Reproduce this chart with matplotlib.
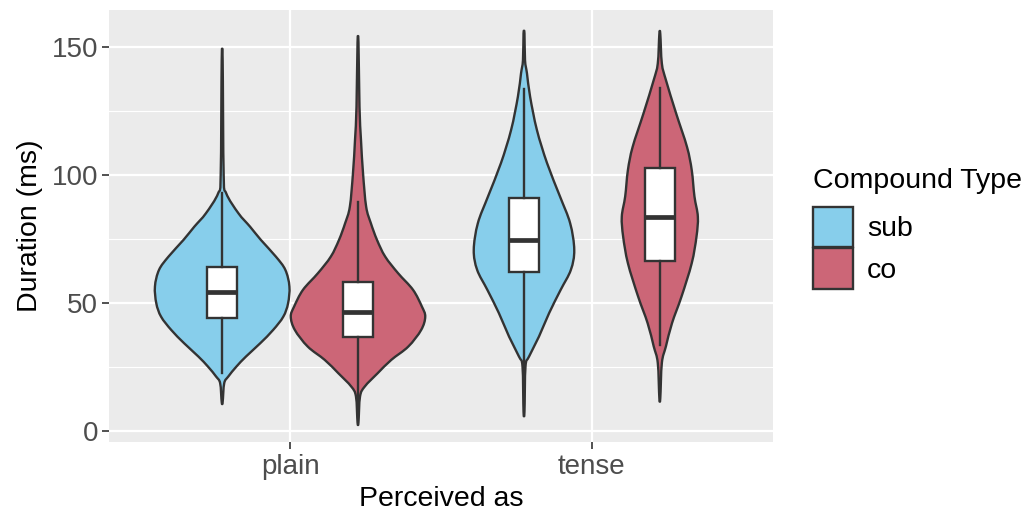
import numpy as np
import matplotlib
matplotlib.use("Agg")
import matplotlib.pyplot as plt
from matplotlib.patches import Patch, PathPatch
from matplotlib.path import Path

plt.rcParams['font.family'] = ['Liberation Sans', 'DejaVu Sans']

# ---- data ----
categories = ["plain", "tense"]
groups = ["sub", "co"]
colors = {"sub": "#87CEEB", "co": "#CC6677"}

# violin outlines: y value and relative half-width (0..1)
plain_sub_y = [144.7, 100.0, 92.8, 85.0, 79.8, 74.6, 68.1, 62.9, 56.4, 49.8, 44.6, 39.4, 34.2, 29.0, 25.1, 21.2, 18.6, 11.2]
plain_sub_w = [0.007, 0.022, 0.06, 0.24, 0.41, 0.57, 0.79, 0.93, 0.99, 0.97, 0.90, 0.75, 0.56, 0.35, 0.21, 0.09, 0.03, 0.007]
plain_co_y = [151.7, 126.7, 113.7, 100.7, 87.6, 81.1, 74.6, 68.1, 61.6, 55.1, 48.6, 44.6, 39.4, 32.9, 27.7, 22.5, 17.3, 13.4, 3.3]
plain_co_w = [0.007, 0.022, 0.044, 0.074, 0.12, 0.19, 0.28, 0.40, 0.59, 0.81, 0.94, 0.99, 0.93, 0.74, 0.49, 0.29, 0.10, 0.03, 0.007]
tense_sub_y = [155.3, 144.9, 139.7, 130.6, 117.6, 104.6, 91.6, 81.1, 70.7, 62.9, 55.1, 46.0, 36.8, 29.0, 25.1, 7.5]
tense_sub_w = [0.007, 0.015, 0.044, 0.09, 0.19, 0.34, 0.53, 0.68, 0.74, 0.69, 0.54, 0.37, 0.22, 0.074, 0.022, 0.007]
tense_co_y = [155.1, 143.6, 137.1, 124.1, 111.0, 101.9, 91.6, 83.7, 75.9, 65.5, 52.5, 42.1, 33.0, 26.5, 12.8]
tense_co_w = [0.007, 0.03, 0.09, 0.24, 0.40, 0.47, 0.51, 0.56, 0.54, 0.47, 0.32, 0.18, 0.09, 0.03, 0.007]

# box statistics per (category, group): q1, median, q3, whisker low, whisker high
box_q1 = {"plain": {"sub": 44.0, "co": 36.5}, "tense": {"sub": 62.0, "co": 66.5}}
box_med = {"plain": {"sub": 54.2, "co": 46.4}, "tense": {"sub": 74.6, "co": 83.7}}
box_q3 = {"plain": {"sub": 64.0, "co": 58.1}, "tense": {"sub": 90.9, "co": 102.9}}
box_lo = {"plain": {"sub": 22.5, "co": 8.0}, "tense": {"sub": 22.0, "co": 33.6}}
box_hi = {"plain": {"sub": 92.8, "co": 89.6}, "tense": {"sub": 133.5, "co": 133.9}}

violins = {
    ("plain", "sub"): (plain_sub_y, plain_sub_w),
    ("plain", "co"): (plain_co_y, plain_co_w),
    ("tense", "sub"): (tense_sub_y, tense_sub_w),
    ("tense", "co"): (tense_co_y, tense_co_w),
}

yticks = [0, 50, 100, 150]


def smooth_closed_path(xs, ys):
    """Closed outline through the given vertices, drawn with cubic Bezier segments."""
    pts = np.column_stack([xs, ys])
    n = len(pts)
    verts = [pts[0]]
    codes = [Path.MOVETO]
    for i in range(n):
        p0 = pts[(i - 1) % n]
        p1 = pts[i]
        p2 = pts[(i + 1) % n]
        p3 = pts[(i + 2) % n]
        c1 = p1 + (p2 - p0) / 6.0
        c2 = p2 - (p3 - p1) / 6.0
        verts += [c1, c2, p2]
        codes += [Path.CURVE4, Path.CURVE4, Path.CURVE4]
    verts.append(pts[0])
    codes.append(Path.CLOSEPOLY)
    return Path(np.array(verts), codes)


# ---- figure ----
fig = plt.figure(figsize=(10.31, 5.12), dpi=100)
ax = fig.add_axes([109/1031, 1 - 442/512, (773-109)/1031, (442-10)/512])
ax.set_facecolor("#EBEBEB")
for s in ax.spines.values():
    s.set_visible(False)

ax.set_xlim(0.4, 2.6)
ax.set_ylim(-4.4, 164.5)

# grid
for v in [25, 75, 125]:
    ax.axhline(v, color="white", lw=0.8, zorder=0)
for v in yticks:
    ax.axhline(v, color="white", lw=1.6, zorder=0)
for i in range(len(categories)):
    ax.axvline(i + 1, color="white", lw=1.6, zorder=0)

dodge = 0.225
maxhw = 0.225
boxw = 0.1
edge = "#333333"

for ci, cat in enumerate(categories):
    for gi, g in enumerate(groups):
        xc = ci + 1 + (-dodge if gi == 0 else dodge)
        ys, ws = violins[(cat, g)]
        ys = np.array(ys)
        ws = np.array(ws) * maxhw
        xs_poly = np.concatenate([xc + ws, (xc - ws)[::-1]])
        ys_poly = np.concatenate([ys, ys[::-1]])
        path = smooth_closed_path(xs_poly, ys_poly)
        ax.add_patch(PathPatch(path, facecolor=colors[g], edgecolor=edge, lw=1.7,
                               joinstyle="round", zorder=2))
        stats = [{"med": box_med[cat][g], "q1": box_q1[cat][g], "q3": box_q3[cat][g],
                  "whislo": box_lo[cat][g], "whishi": box_hi[cat][g], "fliers": []}]
        ax.bxp(stats, positions=[xc], widths=boxw, showcaps=False, showfliers=False,
               patch_artist=True, manage_ticks=False,
               boxprops=dict(facecolor="white", edgecolor=edge, lw=1.7),
               whiskerprops=dict(color=edge, lw=1.7),
               medianprops=dict(color=edge, lw=3.4, solid_capstyle="butt"),
               zorder=3)

ax.set_xticks([1, 2])
ax.set_xticklabels(categories)
ax.set_yticks(yticks)
ax.tick_params(axis="both", colors="#333333", length=5, width=1.2, labelsize=20,
               labelcolor="#4D4D4D")
ax.tick_params(axis="x", pad=4)
ax.tick_params(axis="y", pad=3)
ax.set_xlabel("Perceived as", fontsize=20.5, color="black", labelpad=4)
ax.set_ylabel("Duration (ms)", fontsize=20.5, color="black", labelpad=6)

handles = [Patch(facecolor=colors[g], edgecolor=edge, lw=1.7, label=g) for g in groups]
leg = fig.legend(handles=handles, title="Compound Type", loc="upper left",
                 bbox_to_anchor=(813/1031, 1 - 168/512), frameon=False,
                 fontsize=20.5, title_fontsize=20.5, handlelength=1.4, handleheight=1.8,
                 handletextpad=0.5, labelspacing=0.05, borderaxespad=0, borderpad=0)
leg._legend_box.align = "left"
leg._legend_box.sep = 9

fig.savefig("out.png", dpi=100, facecolor="white")
